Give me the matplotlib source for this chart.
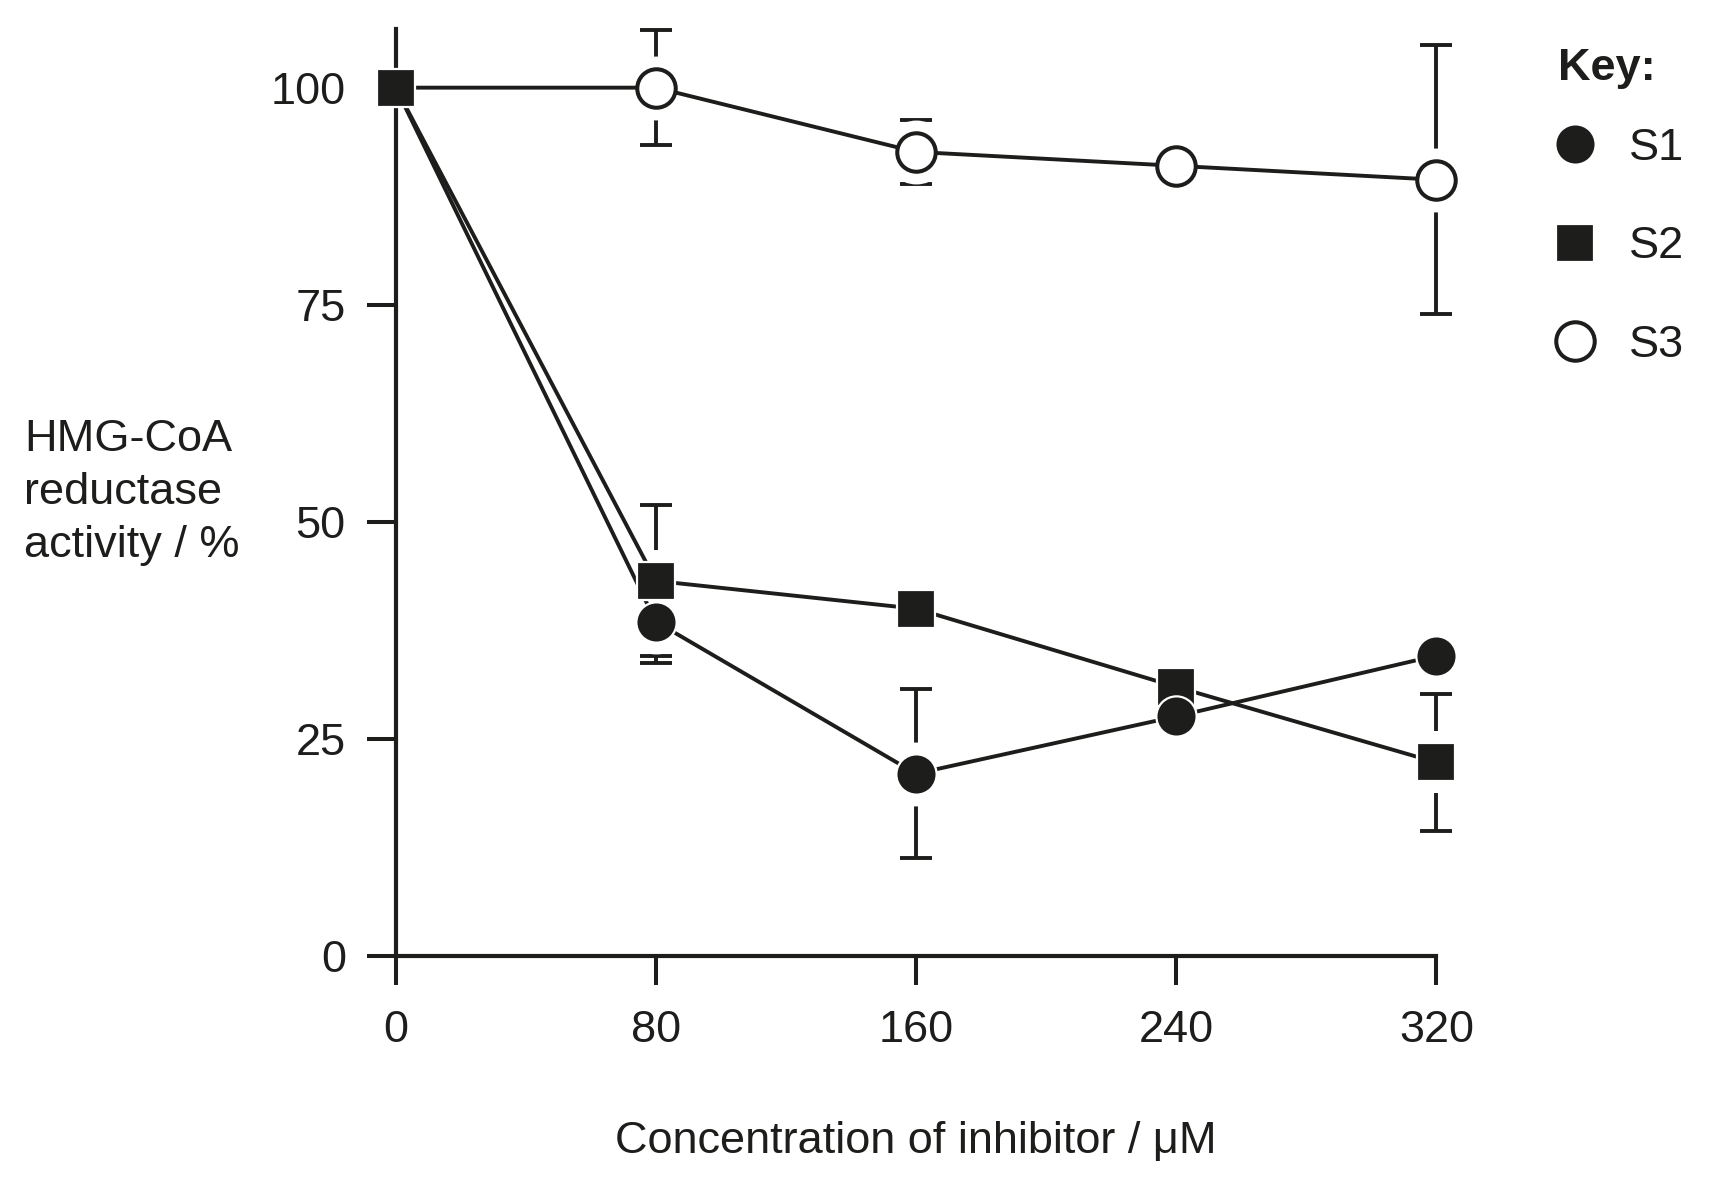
import numpy as np
import matplotlib
matplotlib.use("Agg")
import matplotlib.pyplot as plt

# data
conc = [0, 80, 160, 240, 320]
s1 = [100, 38.5, 21.0, 27.6, 34.6]
s1_err = [np.nan, 4.7, 9.75, np.nan, np.nan]
s2 = [100, 43.2, 40.0, 31.0, 22.3]
s2_err = [np.nan, 8.7, np.nan, np.nan, 7.9]
s3 = [100, 100.0, 92.6, 91.0, 89.4]
s3_err = [np.nan, 6.65, 3.7, np.nan, 15.5]

x_ticks = [0, 80, 160, 240, 320]
y_ticks = [0, 25, 50, 75, 100]

INK = "#1d1d1b"
FS = 32.5
plt.rcParams["font.family"] = ["Liberation Sans", "DejaVu Sans"]


def main():
    fig = plt.figure(figsize=(17.14, 11.79), dpi=100)
    ax = fig.add_axes([0.2309, 0.1891, 0.6071, 0.7859])
    ax.set_xlim(0, 320)
    ax.set_ylim(0, 106.7)

    # the first point sits under the S2 square, so S1 and S3 skip its marker
    series = [
        (s1, s1_err, "o", INK, 29.0, "white", 1.6, 6, slice(1, None)),
        (s2, s2_err, "s", INK, 28.0, "white", 1.6, 5, None),
        (s3, s3_err, "o", "white", 27.7, INK, 2.9, 4, slice(1, None)),
    ]

    handles = []
    for y, err, mk, face, ms, edge, mew, z, every in series:
        ax.errorbar(conc, y, yerr=err, fmt="none", ecolor=INK, elinewidth=2.8,
                    capsize=11.4, capthick=2.8, zorder=1, clip_on=False)
        # white halo so that the whiskers stop short of the marker
        halo = 45 if mk == "s" else 46
        ax.plot(conc, y, ls="none", marker=mk, ms=halo, color="white",
                mew=0, zorder=2, clip_on=False, markevery=every)
        ax.plot(conc, y, color=INK, lw=2.8, zorder=3, clip_on=False)
        h, = ax.plot(conc, y, ls="none", marker=mk, ms=ms, mfc=face, mec=edge,
                     mew=mew, zorder=z, clip_on=False, markevery=every)
        handles.append(h)

    for side in ["top", "right"]:
        ax.spines[side].set_visible(False)
    for side in ["left", "bottom"]:
        ax.spines[side].set_linewidth(3.0)
        ax.spines[side].set_color(INK)

    ax.set_xticks(x_ticks)
    ax.set_yticks(y_ticks)
    ax.tick_params(axis="both", direction="out", length=21, width=2.9,
                   color=INK, labelcolor=INK, labelsize=FS)
    ax.tick_params(axis="x", pad=18)
    ax.tick_params(axis="y", pad=15)

    fig.text(0.5344, 1 - 1153 / 1179, "Concentration of inhibitor / μM",
             ha="center", va="baseline", fontsize=FS, color=INK)
    fig.text(24 / 1714, 0.582, "HMG-CoA\nreductase\nactivity / %",
             ha="left", va="center", fontsize=FS, color=INK, linespacing=1.37)

    fig.text(1558 / 1714, 1 - 80 / 1179, "Key:", ha="left", va="baseline",
             fontsize=FS, fontweight="bold", color=INK)
    fig.legend(handles, ["S1", "S2", "S3"], loc="upper left",
               bbox_to_anchor=(1556 / 1714, 1 - 128 / 1179),
               frameon=False, fontsize=FS, borderpad=0, borderaxespad=0,
               handlelength=0.82, handletextpad=0.8, labelspacing=1.27,
               labelcolor=INK)

    fig.savefig("out.png", dpi=100)


if __name__ == "__main__":
    main()
